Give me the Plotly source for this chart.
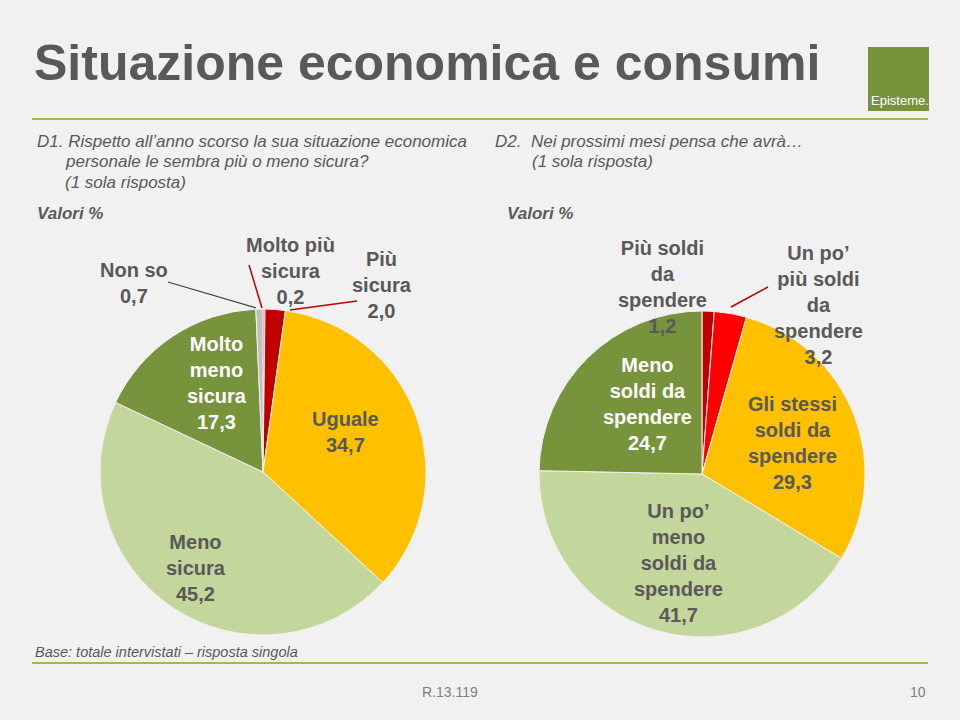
import plotly.graph_objects as go

W, H = 960, 720

# ---- data ----
left_labels = ["Molto più sicura", "Più sicura", "Uguale", "Meno sicura", "Molto meno sicura", "Non so"]
left_values = [0.2, 2.0, 34.7, 45.2, 17.3, 0.7]
left_colors = ["#FF0000", "#C00000", "#FFC000", "#C3D69B", "#77933C", "#BFBFBF"]

right_labels = ["Più soldi da spendere", "Un po’ più soldi da spendere", "Gli stessi soldi da spendere",
                "Un po’ meno soldi da spendere", "Meno soldi da spendere"]
right_values = [1.2, 3.2, 29.3, 41.7, 24.7]
right_colors = ["#C00000", "#FF0000", "#FFC000", "#C3D69B", "#77933C"]

def fmt(v):
    return f"{v:.1f}".replace(".", ",")

def px(x):
    return x / W

def py(y):
    return 1 - y / H

fig = go.Figure()

fig.add_trace(go.Pie(
    labels=left_labels, values=left_values, sort=False, direction="clockwise", rotation=0,
    marker=dict(colors=left_colors, line=dict(color="#F2F2F2", width=1)),
    textinfo="none", hoverinfo="label+value", showlegend=False,
    domain=dict(x=[px(100), px(426)], y=[py(635), py(309)]),
))
fig.add_trace(go.Pie(
    labels=right_labels, values=right_values, sort=False, direction="clockwise", rotation=0,
    marker=dict(colors=right_colors, line=dict(color="#F2F2F2", width=1)),
    textinfo="none", hoverinfo="label+value", showlegend=False,
    domain=dict(x=[px(539), px(865)], y=[py(637), py(311)]),
))

DARK = "#595959"
FONT = "Liberation Sans, Arial, sans-serif"
annotations = []

def ann(text, x, y, size=20, color=DARK, bold=True, italic=False, align="center", xanchor="center", yanchor="middle"):
    t = text
    if bold:
        t = f"<b>{t}</b>"
    if italic:
        t = f"<i>{t}</i>"
    annotations.append(dict(text=t, x=px(x), y=py(y), xref="paper", yref="paper",
                            showarrow=False, align=align, xanchor=xanchor, yanchor=yanchor,
                            font=dict(family=FONT, size=size, color=color)))

# Title
ann("Situazione economica e consumi", 32, 63, size=50, xanchor="left")
# Logo text
ann("Episteme.", 869, 101, size=13, color="white", bold=False, xanchor="left")

# Questions
ann("D1. Rispetto all’anno scorso la sua situazione economica", 35, 142, size=17, bold=False, italic=True, xanchor="left")
ann("personale le sembra più o meno sicura?", 63, 162, size=17, bold=False, italic=True, xanchor="left")
ann("(1 sola risposta)", 63, 182, size=17, bold=False, italic=True, xanchor="left")
ann("Valori %", 35, 213, size=17, bold=True, italic=True, xanchor="left")

ann("D2.  Nei prossimi mesi pensa che avrà…", 493, 142, size=17, bold=False, italic=True, xanchor="left")
ann("(1 sola risposta)", 530, 162, size=17, bold=False, italic=True, xanchor="left")
ann("Valori %", 505, 213, size=17, bold=True, italic=True, xanchor="left")

# Left pie labels
ann(f"Non so<br>{fmt(left_values[5])}", 134, 283)
ann(f"Molto più<br>sicura<br>{fmt(left_values[0])}", 290, 271)
ann(f"Più<br>sicura<br>{fmt(left_values[1])}", 382, 285)
ann(f"Molto<br>meno<br>sicura<br>{fmt(left_values[4])}", 217, 383, color="white")
ann(f"Uguale<br>{fmt(left_values[2])}", 345, 432)
ann(f"Meno<br>sicura<br>{fmt(left_values[3])}", 196, 568)

# Right pie labels
ann(f"Più soldi<br>da<br>spendere<br>{fmt(right_values[0])}", 662, 287)
ann(f"Un po’<br>più soldi<br>da<br>spendere<br>{fmt(right_values[1])}", 818, 305)
ann(f"Meno<br>soldi da<br>spendere<br>{fmt(right_values[4])}", 647, 404, color="white")
ann(f"Gli stessi<br>soldi da<br>spendere<br>{fmt(right_values[2])}", 792, 443)
ann(f"Un po’<br>meno<br>soldi da<br>spendere<br>{fmt(right_values[3])}", 678, 563)

# Footer
ann("Base: totale intervistati – risposta singola", 33, 652, size=14.5, bold=False, italic=True, xanchor="left")
ann("R.13.119", 450, 692, size=14, bold=False, color="#7F7F7F")
ann("10", 918, 692, size=14, bold=False, color="#7F7F7F")

shapes = []

def line(x0, y0, x1, y1, color, width=1.5):
    shapes.append(dict(type="line", xref="paper", yref="paper", x0=px(x0), y0=py(y0),
                       x1=px(x1), y1=py(y1), line=dict(color=color, width=width)))

# leader lines
line(168, 282, 256, 308, "#404040", 1.2)
line(249, 265, 262, 308, "#C00000", 1.5)
line(357, 301, 290, 310, "#C00000", 1.5)
line(768, 287, 731, 307, "#C00000", 1.5)

# separator lines
line(32, 119, 928, 119, "#9BBB59", 2)
line(32, 663, 928, 663, "#9BBB59", 2)

# logo box
shapes.append(dict(type="rect", xref="paper", yref="paper", x0=px(868), x1=px(929),
                   y0=py(111), y1=py(47), fillcolor="#77933C", line=dict(width=0), layer="below"))

fig.update_layout(
    width=W, height=H, margin=dict(l=0, r=0, t=0, b=0),
    paper_bgcolor="#F1F1F1", plot_bgcolor="#F1F1F1",
    annotations=annotations, shapes=shapes, showlegend=False,
)

fig.write_html("out.html")
